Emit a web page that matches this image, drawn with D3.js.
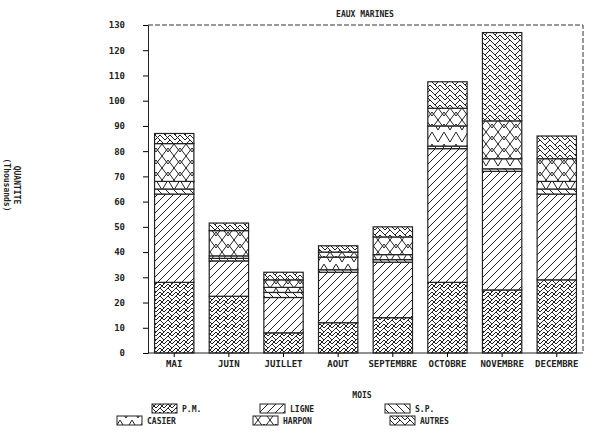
<!DOCTYPE html><html><head><script src="https://cdn.jsdelivr.net/npm/d3@7"></script>
<style>body{margin:0;background:#fff}text{font-family:"DejaVu Sans Mono",monospace;font-weight:bold;fill:#222}</style></head><body>
<svg id="c" width="600" height="438"></svg>
<script>
const months=["MAI","JUIN","JUILLET","AOUT","SEPTEMBRE","OCTOBRE","NOVEMBRE","DECEMBRE"];
const seriesNames=["P.M.","LIGNE","S.P.","CASIER","HARPON","AUTRES"];
const pm=[28,22.5,8,12,14,28,25,29];
const ligne=[35,14,14,20,22,53,47,34];
const sp=[2,1,2,1,1,1,1,2];
const casier=[3,1,2,5,2,8,4,3];
const harpon=[15,10,3,2,7,7,15,9];
const autres=[4,3,3,2.5,4,10.5,35,9];
const yTicks=d3.range(0,131,10);
const vals=[pm,ligne,sp,casier,harpon,autres];
const svg=d3.select("#c");
const defs=svg.append("defs");
function pat(id,paths,size=8){const p=defs.append("pattern").attr("id",id).attr("patternUnits","userSpaceOnUse").attr("width",size).attr("height",size);
p.append("rect").attr("width",size).attr("height",size).attr("fill","#fff");
paths.forEach(d=>p.append("path").attr("d",d).attr("stroke","#222").attr("stroke-width",1).attr("fill","none"));}
pat("p0",["M0,0L4,4L8,0","M0,4L4,8L8,4","M0,8L8,0"],8);
pat("p1",["M0,8L8,0"],8);
pat("p2",["M0,0L8,8"],8);
pat("p3",["M0,0L6,10L12,0"],12);
pat("p4",["M0,8L6,0L12,8","M0,4L6,12L12,4"],12);
pat("p5",["M0,0L5,5L10,0","M0,5L5,10L10,5","M0,0L10,10"],10);
const m={l:148,r:583,t:25,b:353};
const x=d3.scaleBand().domain(months).range([m.l,m.r]).paddingInner(0.28).paddingOuter(0.12);
const y=d3.scaleLinear().domain([0,130]).range([m.b,m.t]);
const data=months.map((mo,i)=>{const o={m:mo};seriesNames.forEach((s,k)=>o[s]=vals[k][i]);return o;});
const st=d3.stack().keys(seriesNames)(data);
svg.append("path").attr("d",`M${m.l},${m.t}H${m.r}V${m.b}`).attr("stroke","#333").attr("stroke-dasharray","5,2").attr("fill","none");
st.forEach((s,k)=>svg.append("g").selectAll("rect").data(s).join("rect")
 .attr("x",d=>x(d.data.m)).attr("width",x.bandwidth()).attr("y",d=>y(d[1])).attr("height",d=>y(d[0])-y(d[1]))
 .attr("fill",`url(#p${k})`).attr("stroke","#222").attr("stroke-width",1.2));
svg.append("g").attr("transform",`translate(${m.l},0)`).call(d3.axisLeft(y).tickValues(yTicks).tickSize(5).tickPadding(18))
 .call(g=>g.selectAll("text").style("font-size","9px"));
svg.append("g").attr("transform",`translate(0,${m.b})`).call(d3.axisBottom(x).tickSize(4).tickPadding(4))
 .call(g=>g.selectAll("text").style("font-size","9px")).call(g=>g.select(".domain").attr("d",`M${m.l},0H${m.r}`));
svg.selectAll(".domain").attr("stroke","#222");
svg.append("text").attr("x",365).attr("y",17).attr("text-anchor","middle").style("font-size","8px").text("EAUX MARINES");
svg.append("text").attr("x",362).attr("y",398).attr("text-anchor","middle").style("font-size","8px").text("MOIS");
svg.append("text").attr("transform","translate(14,185) rotate(90)").attr("text-anchor","middle").style("font-size","8px").text("QUANTITE");
svg.append("text").attr("transform","translate(4,185) rotate(90)").attr("text-anchor","middle").style("font-size","8px").text("(Thousands)");
const leg=[[152,404],[260,404],[385,404],[117,416],[253,416],[390,416]];
seriesNames.forEach((s,k)=>{const [lx,ly]=leg[k];
 svg.append("rect").attr("x",lx).attr("y",ly).attr("width",25).attr("height",9).attr("fill",`url(#p${k})`).attr("stroke","#222");
 svg.append("text").attr("x",lx+30).attr("y",ly+8).style("font-size","8px").text(s);});
</script></body></html>
